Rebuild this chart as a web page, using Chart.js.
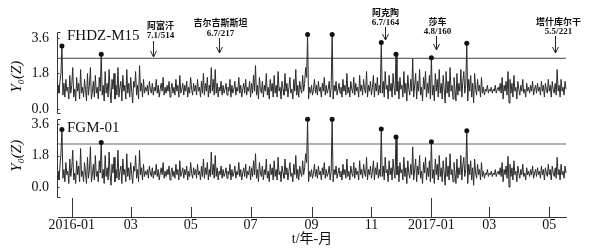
<!DOCTYPE html>
<html><head><meta charset="utf-8">
<script src="https://cdn.jsdelivr.net/npm/chart.js@4.4.1/dist/chart.umd.min.js"></script>
<style>html,body{margin:0;padding:0;background:#fff;}#wrap{width:599px;height:250px;position:relative;}</style>
</head><body><div id="wrap"><canvas id="c" width="599" height="250"></canvas></div>
<script>
// day index 0 = 2016-01-01; first sample 2015-12-18
const startDay = -14;
const endDay = 503;
const monthTickDays = [0, 60, 121, 182, 244, 305, 366, 425, 486];
const monthTickLabels = ['2016-01', '03', '05', '07', '09', '11', '2017-01', '03', '05'];
const yearStartDays = [0, 366];
const yTickValues = [0, 1.8, 3.6];
const panelNames = ['FHDZ-M15', 'FGM-01'];
const fhdzThreshold = 2.57;
const fgmThreshold = 2.46;
const quakeNames = ['阿富汗', '吉尔吉斯斯坦', '阿克陶', '莎车', '塔什库尔干'];
const quakeInfo = ['7.1/514', '6.7/217', '6.7/164', '4.8/160', '5.5/221'];
const quakeDays = [83, 150, 319, 371, 492];

const fhdzValues = [
1.2,0.8,1.4,1.8,3.2,0.7,1.3,0.6,1.5,0.9,
1.1,0.5,1.7,0.8,1.2,2.1,0.6,1.0,0.4,1.6,
0.9,1.3,0.5,2.0,0.8,1.1,0.6,1.5,1.0,0.4,
1.8,0.7,1.2,2.1,0.5,0.9,1.4,0.6,1.7,0.8,
1.1,0.5,1.6,0.9,2.77,0.7,1.2,0.4,1.9,0.8,
1.3,0.6,2.0,0.9,0.3,1.5,1.0,1.8,0.5,1.2,
0.7,2.1,0.6,1.1,1.4,0.4,1.7,0.9,1.2,0.5,
2.0,0.8,1.3,0.6,1.6,0.9,0.3,1.4,1.1,1.9,
0.7,1.2,0.5,2.2,0.9,1.3,0.6,1.5,0.8,1.1,
0.9,1.2,0.7,1.4,1.0,0.8,1.3,0.7,1.1,0.9,
1.5,0.8,1.2,0.6,1.0,1.3,0.9,1.6,0.7,1.1,
0.8,1.2,0.9,1.4,0.6,1.0,1.3,0.8,1.1,0.7,
1.5,0.9,1.2,0.6,1.7,0.8,1.0,1.3,0.7,1.2,
0.9,1.4,0.6,1.1,0.8,1.6,1.0,0.7,1.3,0.9,
1.2,0.7,1.5,0.9,1.1,0.6,1.4,0.8,1.8,0.7,
1.3,0.9,1.6,0.6,1.2,0.8,2.1,0.9,1.5,0.7,
2.0,0.8,1.3,0.6,1.1,0.9,1.4,0.7,1.2,0.8,
1.0,1.3,0.7,1.1,0.9,1.5,0.6,1.2,0.8,1.0,
1.4,0.7,1.1,0.9,1.6,0.8,1.2,0.6,1.0,1.3,
0.8,1.5,0.7,1.1,0.9,1.4,0.6,1.3,0.8,1.7,
0.9,2.2,0.7,1.2,0.5,1.6,1.0,0.8,1.4,0.6,
1.2,0.9,1.8,0.7,1.1,0.5,1.5,0.9,1.3,0.6,
1.7,0.8,1.2,0.6,1.9,0.9,1.1,0.5,1.4,1.0,
0.7,1.8,0.9,1.3,0.6,1.1,1.6,0.8,1.0,0.5,
1.5,0.9,2.0,0.7,1.2,0.6,1.4,1.0,0.8,1.7,
0.9,1.3,2.1,1.6,3.78,0.5,1.1,0.8,1.2,0.7,
1.0,1.5,0.8,1.2,0.7,1.4,0.9,1.1,0.6,1.3,
0.9,1.6,0.7,1.2,0.8,1.0,1.4,0.6,1.1,3.78,
0.5,1.2,0.9,1.4,0.7,1.0,1.3,0.8,1.1,0.6,
1.5,0.9,1.2,0.7,1.8,0.8,1.1,0.6,1.4,1.0,
0.8,1.6,0.7,1.3,0.9,1.1,0.6,1.7,0.9,1.2,
0.7,1.5,1.0,0.8,1.9,0.6,1.2,0.9,1.4,0.7,
1.1,1.7,0.6,1.3,0.9,1.6,0.7,1.2,0.8,3.37,
0.8,1.4,0.6,1.9,1.0,1.2,0.5,1.7,0.9,1.3,
0.6,1.8,1.1,0.7,2.78,0.9,1.4,0.5,1.6,1.0,
1.2,0.6,1.9,0.8,1.3,0.4,1.7,1.0,0.7,1.5,
0.9,2.55,0.6,1.2,1.8,0.5,1.4,0.9,2.0,0.7,
1.1,0.4,1.6,1.0,1.9,0.6,1.3,0.8,1.7,0.5,
2.6,0.7,1.2,0.4,1.8,0.9,1.5,0.6,2.0,0.8,
1.3,0.5,1.7,1.0,0.3,1.9,0.8,1.4,0.6,2.1,
0.9,1.2,0.5,1.6,1.0,0.4,1.8,0.7,1.3,0.9,
2.0,0.6,1.4,1.9,0.8,1.2,3.33,0.4,1.5,0.9,
1.7,0.6,1.3,0.3,1.8,1.0,0.7,1.5,0.9,1.2,
0.6,1.6,0.8,1.1,0.7,1.0,0.9,1.2,0.8,1.0,
0.9,1.1,0.8,1.0,0.9,1.2,0.8,1.0,1.1,0.9,
1.3,0.8,1.6,0.5,1.2,0.9,1.4,0.7,1.9,0.3,
1.5,0.8,1.3,0.6,1.7,0.9,1.1,0.5,1.4,1.0,
0.7,1.2,0.9,1.5,0.8,1.0,0.6,1.3,0.9,1.1,
0.8,1.2,0.9,1.4,0.7,1.0,1.2,0.8,1.3,0.9,
1.1,0.7,1.4,0.9,1.2,0.6,1.3,1.0,0.8,1.5,
0.9,1.2,0.6,1.4,1.0,0.8,1.3,0.7,2.0,0.9,
1.2,0.6,1.5,0.9,1.1,0.7,1.4,1.0
];

const fgmValues = [
0.9,0.4,1.2,1.9,3.28,0.5,1.0,0.3,1.4,0.7,
0.9,0.2,1.6,0.6,1.1,2.1,0.4,0.8,0.2,1.5,
0.7,1.2,0.3,2.2,0.6,0.9,0.3,1.4,0.8,0.2,
1.7,0.5,1.0,2.3,0.3,0.7,1.3,0.4,1.8,0.6,
0.9,0.3,1.5,0.8,2.55,0.5,1.0,0.2,1.8,0.6,
1.1,0.4,2.0,0.7,0.1,1.3,0.8,1.7,0.3,1.0,
0.5,2.1,0.4,0.9,1.2,0.2,1.6,0.7,1.0,0.3,
1.9,0.6,1.1,0.4,1.4,0.7,0.2,1.2,0.9,1.8,
0.5,1.0,0.3,2.1,0.7,1.1,0.4,1.3,0.6,0.9,
0.7,1.0,0.5,1.2,0.8,0.6,1.1,0.5,0.9,0.7,
1.3,0.6,1.0,0.4,0.8,1.1,0.7,1.4,0.5,0.9,
0.6,1.0,0.7,1.2,0.4,0.8,1.1,0.6,0.9,0.5,
1.3,0.7,1.0,0.4,1.5,0.6,0.8,1.1,0.5,1.0,
0.7,1.2,0.4,0.9,0.6,1.4,0.8,0.5,1.1,0.7,
1.0,0.5,1.3,0.7,0.9,0.4,1.2,0.6,1.6,0.5,
1.1,0.7,1.4,0.4,1.0,0.6,2.0,0.7,1.3,0.5,
1.8,0.6,1.1,0.4,0.9,0.7,1.2,0.5,1.0,0.6,
0.8,1.1,0.5,0.9,0.7,1.3,0.4,1.0,0.6,0.8,
1.2,0.5,0.9,0.7,1.4,0.6,1.0,0.4,0.8,1.1,
0.6,1.3,0.5,0.9,0.7,1.2,0.4,1.1,0.6,1.5,
0.7,1.9,0.5,1.0,0.3,1.4,0.8,0.6,1.2,0.4,
1.0,0.7,1.6,0.5,0.9,0.3,1.3,0.7,1.1,0.4,
1.5,0.6,1.0,0.4,1.7,0.7,0.9,0.3,1.2,0.8,
0.5,1.6,0.7,1.1,0.4,0.9,1.4,0.6,0.8,0.3,
1.3,0.7,1.8,0.5,1.0,0.4,1.2,0.8,0.6,1.5,
0.7,1.1,1.9,1.4,3.87,0.3,0.9,0.6,1.0,0.5,
0.8,1.3,0.6,1.0,0.5,1.2,0.7,0.9,0.4,1.1,
0.7,1.4,0.5,1.0,0.6,0.8,1.2,0.4,0.9,3.87,
0.3,1.0,0.7,1.2,0.5,0.8,1.1,0.6,0.9,0.4,
1.3,0.7,1.0,0.5,1.6,0.6,0.9,0.4,1.2,0.8,
0.6,1.4,0.5,1.1,0.7,0.9,0.4,1.5,0.7,1.0,
0.5,1.3,0.8,0.6,1.7,0.4,1.0,0.7,1.2,0.5,
0.9,1.5,0.4,1.1,0.7,1.4,0.5,1.0,0.6,3.31,
0.6,1.2,0.4,1.7,0.8,1.0,0.3,1.5,0.7,1.1,
0.4,1.6,0.9,0.5,2.86,0.7,1.2,0.3,1.4,0.8,
1.0,0.4,1.7,0.6,1.1,0.2,1.5,0.8,0.5,1.3,
0.7,2.29,0.4,1.0,1.6,0.3,1.2,0.7,1.8,0.5,
0.9,0.2,1.4,0.8,1.7,0.4,1.1,0.6,1.5,0.3,
2.59,0.5,1.0,0.2,1.6,0.7,1.3,0.4,1.8,0.6,
1.1,0.3,1.5,0.8,0.1,1.7,0.6,1.2,0.4,1.9,
0.7,1.0,0.3,1.4,0.8,0.2,1.6,0.5,1.1,0.7,
1.8,0.4,1.2,1.7,0.6,1.0,3.22,0.2,1.3,0.7,
1.5,0.4,1.1,0.1,1.6,0.8,0.5,1.3,0.7,1.0,
0.4,1.4,0.6,0.9,0.5,0.8,0.7,1.0,0.6,0.8,
0.7,0.9,0.6,0.8,0.7,1.0,0.6,0.8,0.9,0.7,
1.1,0.6,1.4,0.3,1.0,0.7,1.2,0.5,1.75,0.0,
1.3,0.6,1.1,0.4,1.5,0.7,0.9,0.3,1.2,0.8,
0.5,1.0,0.7,1.3,0.6,0.8,0.4,1.1,0.7,0.9,
0.6,1.0,0.7,1.2,0.5,0.8,1.0,0.6,1.1,0.7,
0.9,0.5,1.2,0.7,1.0,0.4,1.1,0.8,0.6,1.3,
0.7,1.0,0.4,1.2,0.8,0.6,1.1,0.5,1.7,0.7,
1.0,0.4,1.3,0.7,0.9,0.5,1.2,0.8
];

const SERIF = '"Liberation Serif", "DejaVu Serif", "Noto Sans CJK SC", serif';

function toPoints(arr) { return arr.map((v, i) => ({x: startDay + i, y: v})); }
function flatLine(v) { return [{x: startDay, y: v}, {x: endDay, y: v}]; }

const quakeLayout = [
  {name: 26, info: 36, a0: 41, a1: 57, dx: 7},
  {name: 23, info: 34, a0: 38, a1: 53, dx: 1},
  {name: 12.5, info: 23, a0: 27, a1: 40, dx: 0},
  {name: 21.5, info: 32, a0: 36, a1: 50, dx: 1},
  {name: 21.5, info: 32, a0: 36, a1: 53, dx: 3}
];

const decor = {
  id: 'decor',
  afterDraw(chart) {
    const ctx = chart.ctx;
    const xs = chart.scales.x, yt = chart.scales.yTop, yb = chart.scales.yBot;
    const left = chart.chartArea.left, bottom = chart.chartArea.bottom;
    ctx.save();
    ctx.strokeStyle = '#333';
    ctx.lineWidth = 1;
    // y-axis brackets
    [[yt, 3.92, -0.2], [yb, 3.9, -0.57]].forEach(([s, a, b]) => {
      const y1 = Math.round(s.getPixelForValue(a)) + 0.5;
      const y2 = Math.round(s.getPixelForValue(b)) + 0.5;
      const lx = left - 0.5;
      ctx.beginPath();
      ctx.moveTo(lx + 3, y1); ctx.lineTo(lx, y1); ctx.lineTo(lx, y2); ctx.lineTo(lx + 3, y2);
      ctx.stroke();
      yTickValues.forEach(v => {
        const py = Math.round(s.getPixelForValue(v)) + 0.5;
        ctx.beginPath(); ctx.moveTo(lx, py); ctx.lineTo(lx + 2, py); ctx.stroke();
      });
    });
    // x ticks pointing up
    xs.ticks.forEach(t => {
      const px = Math.round(xs.getPixelForValue(t.value)) + 0.5;
      const len = yearStartDays.includes(t.value) ? 19 : 10;
      ctx.beginPath(); ctx.moveTo(px, bottom); ctx.lineTo(px, bottom - len); ctx.stroke();
    });
    // panel names
    ctx.fillStyle = '#111';
    ctx.font = '15px ' + SERIF;
    ctx.textAlign = 'left';
    ctx.textBaseline = 'middle';
    ctx.fillText(panelNames[0], left + 9, yt.getPixelForValue(3.6) - 2);
    ctx.fillText(panelNames[1], left + 9, yb.getPixelForValue(3.6) + 4);
    // earthquake arrows
    ctx.textAlign = 'center';
    ctx.strokeStyle = '#222';
    quakeDays.forEach((d, i) => {
      const L = quakeLayout[i];
      const x = Math.round(xs.getPixelForValue(d)) + 0.5;
      ctx.font = 'bold 9px "Noto Sans CJK SC", sans-serif';
      ctx.fillText(quakeNames[i], x + L.dx, L.name);
      ctx.font = 'bold 9px ' + SERIF;
      ctx.fillText(quakeInfo[i], x + L.dx, L.info);
      ctx.beginPath();
      ctx.moveTo(x, L.a0); ctx.lineTo(x, L.a1);
      ctx.moveTo(x - 3, L.a1 - 6); ctx.lineTo(x, L.a1); ctx.lineTo(x + 3, L.a1 - 6);
      ctx.stroke();
    });
    ctx.restore();
  }
};

function yAxis(opts) {
  return Object.assign({
    type: 'linear',
    position: 'left',
    stack: 'panels',
    afterBuildTicks: s => { s.ticks = yTickValues.map(v => ({value: v})); },
    afterFit: s => { s.width = 58; },
    ticks: {
      callback: v => Number(v).toFixed(1),
      font: {family: SERIF, size: 14},
      color: '#111',
      padding: 9
    },
    grid: {drawOnChartArea: false, drawTicks: false},
    border: {display: false}
  }, opts);
}

new Chart(document.getElementById('c'), {
  type: 'line',
  data: {
    datasets: [
      {
        label: panelNames[0], yAxisID: 'yTop', data: toPoints(fhdzValues),
        borderColor: '#2a2a2a', borderWidth: 1, tension: 0, clip: false, order: 0,
        pointRadius: c => (c.raw && c.raw.y > fhdzThreshold ? 2.5 : 0),
        pointBackgroundColor: '#111', pointBorderWidth: 0
      },
      {
        label: 'thr1', yAxisID: 'yTop', data: flatLine(fhdzThreshold),
        borderColor: '#444', borderWidth: 1, pointRadius: 0, clip: false, order: 1
      },
      {
        label: panelNames[1], yAxisID: 'yBot', data: toPoints(fgmValues),
        borderColor: '#2a2a2a', borderWidth: 1, tension: 0, clip: false, order: 0,
        pointRadius: c => (c.raw && c.raw.y > fgmThreshold ? 2.5 : 0),
        pointBackgroundColor: '#111', pointBorderWidth: 0
      },
      {
        label: 'thr2', yAxisID: 'yBot', data: flatLine(fgmThreshold),
        borderColor: '#999', borderWidth: 1.6, pointRadius: 0, clip: false, order: 1
      }
    ]
  },
  options: {
    responsive: false,
    animation: false,
    devicePixelRatio: 1,
    layout: {padding: {left: 0, right: 33, top: 25, bottom: 0}},
    plugins: {legend: {display: false}, tooltip: {enabled: false}},
    scales: {
      x: {
        type: 'linear',
        position: 'bottom',
        min: startDay,
        max: endDay,
        afterBuildTicks: s => { s.ticks = monthTickDays.map(v => ({value: v})); },
        afterFit: s => { s.height = 33; },
        ticks: {
          callback: (v, i) => monthTickLabels[i],
          autoSkip: false, maxRotation: 0,
          font: {family: SERIF, size: 14},
          color: '#111',
          padding: 0
        },
        grid: {drawOnChartArea: false, drawTicks: false},
        border: {display: true, color: '#333', width: 1},
        title: {
          display: true, text: 't/年-月', color: '#111',
          font: {family: SERIF, size: 14},
          padding: {top: 0, bottom: 2}
        }
      },
      yTop: yAxis({
        weight: 2, stackWeight: 92, min: -0.41, max: 4.26,
        title: {display: true, text: 'Y₀(Z)   ', color: '#111',
          font: {family: SERIF, size: 15, style: 'italic'}, padding: {top: 8, bottom: 0}}
      }),
      yBot: yAxis({
        weight: 1, stackWeight: 100, min: -1.714, max: 4.0,
        title: {display: true, text: '      Y₀(Z)', color: '#111',
          font: {family: SERIF, size: 15, style: 'italic'}, padding: {top: 8, bottom: 0}}
      })
    }
  },
  plugins: [decor]
});
</script>
</body></html>
